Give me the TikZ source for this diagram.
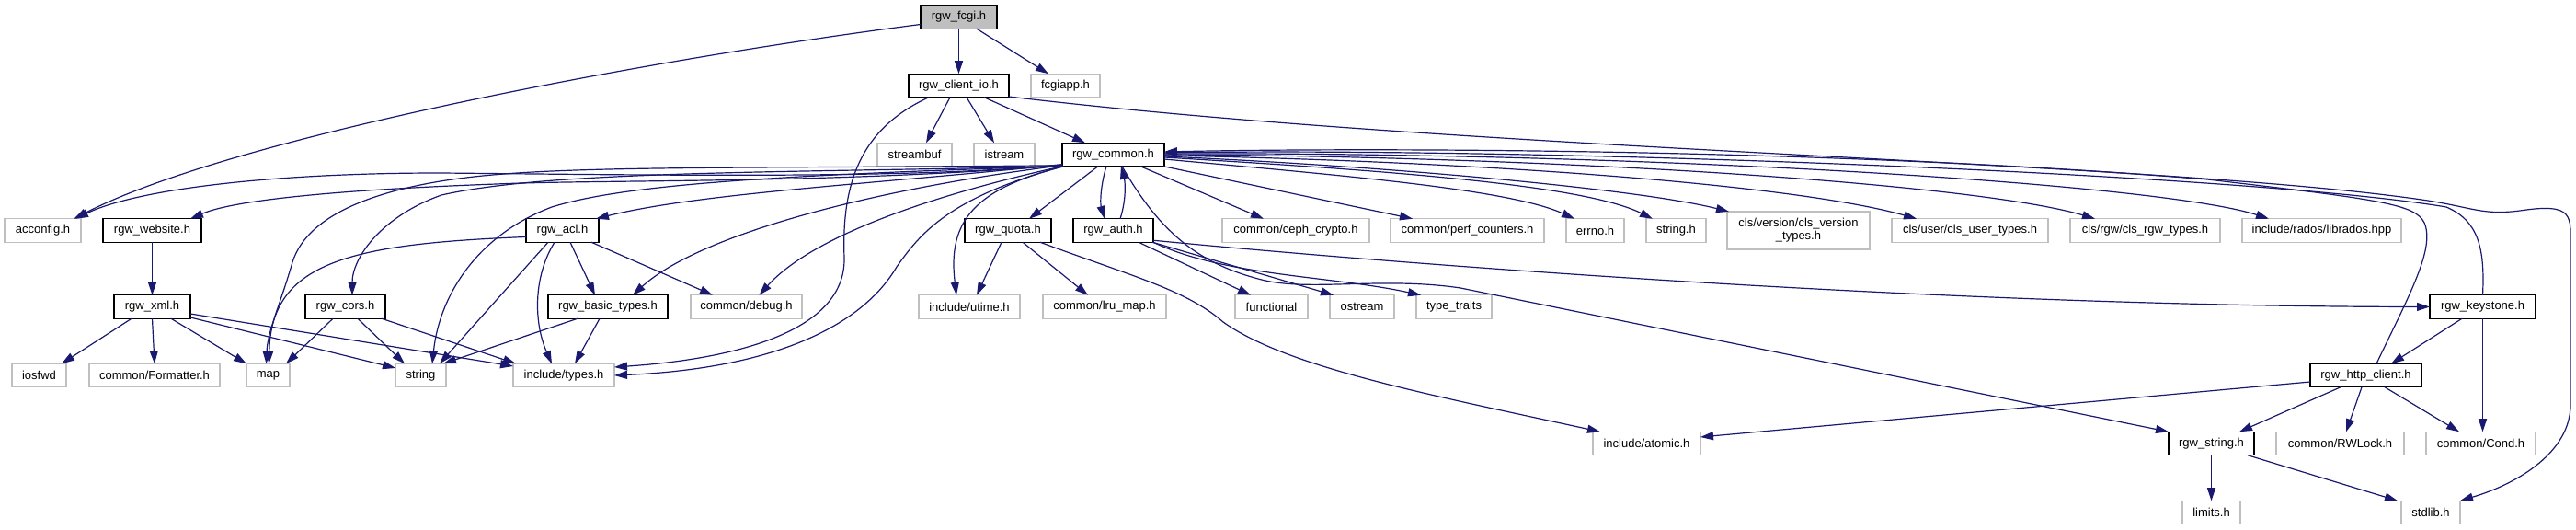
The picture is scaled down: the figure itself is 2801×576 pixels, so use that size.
\documentclass[tikz,border=0pt]{standalone}
\usepackage{fontspec}
\setmainfont{Liberation Sans}
\usetikzlibrary{arrows.meta,calc}
\definecolor{edgec}{HTML}{191970}
\definecolor{greyb}{HTML}{BFBFBF}
\begin{document}
\begin{tikzpicture}[x=0.5pt,y=-0.5pt,
  font=\fontsize{6.5}{7}\selectfont,
  base/.style={inner sep=0pt,outer sep=0pt,line width=0.7pt,minimum height=12.75pt,text=black},
  doc/.style={base,draw=black,fill=white},
  ext/.style={base,draw=greyb,fill=white},
  ed/.style={draw=edgec,line width=0.6pt,-{Triangle[length=7pt,width=4.5pt]}}]
\useasboundingbox[fill=white] (0,0) rectangle (2801,576);
% row 0
\node[doc,fill=greyb,minimum width=41.5pt] (fcgi) at (1042.5,18.5) {rgw\_fcgi.h};
% row 1
\node[doc,minimum width=54.5pt] (clientio) at (1042.5,93) {rgw\_client\_io.h};
\node[ext,minimum width=37.5pt] (fcgiapp) at (1158.5,93) {fcgiapp.h};
% row 2
\node[ext,minimum width=40.5pt] (streambuf) at (994.5,168) {streambuf};
\node[ext,minimum width=33pt] (istream) at (1092,168) {istream};
\node[doc,minimum width=55.5pt] (common) at (1210.5,168) {rgw\_common.h};
% row 3
\node[ext,minimum width=41.5pt] (acconfig) at (46.5,250.5) {acconfig.h};
\node[doc,minimum width=53.5pt] (website) at (165.5,250.5) {rgw\_website.h};
\node[doc,minimum width=39.5pt] (acl) at (611.5,250.5) {rgw\_acl.h};
\node[doc,minimum width=47pt] (quota) at (1096,250.5) {rgw\_quota.h};
\node[doc,minimum width=43.5pt] (auth) at (1210.5,250.5) {rgw\_auth.h};
\node[ext,minimum width=80pt] (cephcrypto) at (1409,250.5) {common/ceph\_crypto.h};
\node[ext,minimum width=83.5pt] (perfcounters) at (1595.5,250.5) {common/perf\_counters.h};
\node[ext,minimum width=31.5pt] (errno) at (1734.5,250.5) {errno.h};
\node[ext,minimum width=32.5pt] (stringh) at (1822.5,250.5) {string.h};
\node[ext,minimum width=77.5pt,minimum height=20.5pt,align=center] (clsversion) at (1955.5,250.5) {cls/version/cls\_version\\\_types.h};
\node[ext,minimum width=85pt] (clsuser) at (2142,250.5) {cls/user/cls\_user\_types.h};
\node[ext,minimum width=81.5pt] (clsrgw) at (2332.5,250.5) {cls/rgw/cls\_rgw\_types.h};
\node[ext,minimum width=86.5pt] (librados) at (2524.5,250.5) {include/rados/librados.hpp};
% row 4
\node[doc,minimum width=41.5pt] (xml) at (165.5,333.5) {rgw\_xml.h};
\node[doc,minimum width=43.5pt] (cors) at (375.5,333.5) {rgw\_cors.h};
\node[doc,minimum width=65pt] (basictypes) at (661,333.5) {rgw\_basic\_types.h};
\node[ext,minimum width=60.5pt] (debug) at (811.5,333.5) {common/debug.h};
\node[ext,minimum width=55pt] (utime) at (1054,333.5) {include/utime.h};
\node[ext,minimum width=67pt] (lrumap) at (1201,333.5) {common/lru\_map.h};
\node[ext,minimum width=39.5pt] (functional) at (1382.5,333.5) {functional};
\node[ext,minimum width=35pt] (ostream) at (1481,333.5) {ostream};
\node[ext,minimum width=41pt] (typetraits) at (1581,333.5) {type\_traits};
\node[doc,minimum width=57.5pt] (keystone) at (2699.5,333.5) {rgw\_keystone.h};
% row 5
\node[ext,minimum width=29.5pt] (iosfwd) at (42.5,408) {iosfwd};
\node[ext,minimum width=71pt] (formatter) at (168,408) {common/Formatter.h};
\node[ext,minimum width=23.5pt] (map) at (291.5,408) {map};
\node[ext,minimum width=27.5pt] (string) at (457.5,408) {string};
\node[ext,minimum width=55pt] (types) at (613,408) {include/types.h};
\node[doc,minimum width=60.5pt] (httpclient) at (2572.5,408) {rgw\_http\_client.h};
% row 6
\node[ext,minimum width=58.5pt] (atomic) at (1790.5,482) {include/atomic.h};
\node[doc,minimum width=46.5pt] (rgwstring) at (2404.5,482) {rgw\_string.h};
\node[ext,minimum width=69.5pt] (rwlock) at (2544.5,482) {common/RWLock.h};
\node[ext,minimum width=59.5pt] (cond) at (2697.5,482) {common/Cond.h};
% row 7
\node[ext,minimum width=31.5pt] (limits) at (2404.5,557) {limits.h};
\node[ext,minimum width=32pt] (stdlib) at (2643,557) {stdlib.h};

% ---- edges from rgw_fcgi.h
\draw[ed] ($(fcgi.west)+(0,8)$) .. controls (700,65) and (250,150) .. ($(acconfig.north)+(34,0)$);
\draw[ed] (fcgi.south) -- (clientio.north);
\draw[ed] ($(fcgi.south)+(19.5,0)$) -- ($(fcgiapp.north)+(-18.5,0)$);
% ---- edges from rgw_client_io.h
\draw[ed] ($(clientio.south)+(-9.5,0)$) -- ($(streambuf.north)+(12.5,0)$);
\draw[ed] ($(clientio.south)+(8.5,0)$) -- ($(istream.north)+(-11,0)$);
\draw[ed] ($(clientio.south)+(27.5,0)$) -- ($(common.north)+(-30.5,0)$);
\draw[ed] ($(clientio.south)+(-32.5,0)$) .. controls (935,140) and (915,200) .. (918,280)
   .. controls (920,360) and (800,390) .. ($(types.east)+(0,-9)$);
\draw[ed] ($(clientio.east)+(0,12)$) .. controls (1600,165) and (2350,175) .. (2640,218)
   .. controls (2690,226) and (2700,234) .. (2740,229)
   .. controls (2800,220) and (2795,235) .. (2795,270) -- (2795,440)
   .. controls (2795,490) and (2740,525) .. (stdlib.north east);
% ---- edges from rgw_common.h, left side
\draw[ed] ($(common.south west)+(0,-2)$) .. controls (1000,195) and (700,190) .. (478,188)
   .. controls (300,188) and (150,205) .. ($(acconfig.north east)+(-6,0)$);
\draw[ed] ($(common.south west)+(0,-1)$) .. controls (900,200) and (650,195) .. (540,200)
   .. controls (400,205) and (260,215) .. ($(website.north east)+(-12,0)$);
\draw[ed] ($(common.south west)+(0,-1)$) .. controls (850,183) and (650,180) .. (536,190)
   .. controls (420,200) and (335,230) .. (318,285)
   .. controls (305,330) and (291,360) .. ($(map.north)+(-2,0)$);
\draw[ed] (common.south west) .. controls (850,188) and (600,185) .. (480,212)
   .. controls (415,235) and (383,280) .. ($(cors.north)+(7.5,0)$);
\draw[ed] (common.south west) .. controls (850,190) and (680,200) .. (600,225)
   .. controls (520,255) and (478,320) .. ($(string.north)+(12.5,0)$);
\draw[ed] ($(common.south west)+(1,0)$) .. controls (1030,215) and (1000,255) .. (975,290)
   .. controls (940,350) and (850,400) .. (types.east);
\draw[ed] ($(common.south west)+(2,0)$) .. controls (1060,205) and (1030,240) .. ($(utime.north)+(-14,0)$);
\draw[ed] (common.south west) .. controls (1000,215) and (880,260) .. ($(debug.north)+(14,0)$);
\draw[ed] ($(common.south west)+(0,-1)$) .. controls (950,205) and (760,255) .. ($(basictypes.north)+(27,0)$);
\draw[ed] ($(common.south west)+(0,-2)$) .. controls (950,200) and (760,210) .. ($(acl.north east)+(-3,0)$);
% ---- edges from rgw_common.h, below and right
\draw[ed] ($(common.south)+(-16.5,0)$) -- ($(quota.north)+(23,0)$);
\draw[ed] ($(common.south)+(-7.5,0)$) .. controls (1197,200) and (1196,220) .. ($(auth.north)+(-9.5,0)$);
\draw[ed] ($(auth.north)+(7.5,0)$) .. controls (1224,220) and (1224,200) .. ($(common.south)+(8.5,0)$);
\draw[ed] ($(common.south)+(29.5,0)$) -- ($(cephcrypto.north)+(-35,0)$);
\draw[ed] ($(common.south east)+(-1,0)$) -- ($(perfcounters.north)+(-59.5,0)$);
\draw[ed] ($(common.east)+(0,5)$) .. controls (1450,190) and (1640,205) .. ($(errno.north)+(-22.5,0)$);
\draw[ed] ($(common.east)+(0,3)$) .. controls (1500,185) and (1720,200) .. ($(stringh.north)+(-25.5,0)$);
\draw[ed] ($(common.east)+(0,2)$) .. controls (1500,180) and (1780,205) .. ($(clsversion.north west)+(2,0)$);
\draw[ed] ($(common.east)+(0,1)$) .. controls (1600,175) and (1950,200) .. ($(clsuser.north)+(-58,0)$);
\draw[ed] (common.east) .. controls (1700,170) and (2150,200) .. ($(clsrgw.north)+(-54.5,0)$);
\draw[ed] ($(common.east)+(0,-1)$) .. controls (1800,165) and (2350,200) .. ($(librados.north)+(-57.5,0)$);
\draw[ed] ($(common.south)+(9.5,0)$) .. controls (1260,250) and (1300,285) .. (1368,303)
   .. controls (1420,318) and (1500,300) .. (1588,313) -- (rgwstring.north west);
% ---- back edges into rgw_common.h
\draw[ed] (keystone.north) .. controls (2702,270) and (2695,240) .. (2660,225)
   .. controls (2450,190) and (1700,160) .. ($(common.east)+(0,-2)$);
\draw[ed] ($(httpclient.north)+(11.5,0)$) .. controls (2620,320) and (2648,270) .. (2636,242)
   .. controls (2626,222) and (2590,217) .. (2400,195)
   .. controls (2000,162) and (1500,160) .. ($(common.east)+(0,-3)$);
% ---- rgw_auth.h
\draw[ed] ($(auth.south)+(27.5,0)$) -- ($(functional.north)+(-22.5,0)$);
\draw[ed] ($(auth.south east)+(-1,0)$) -- ($(ostream.north west)+(4,0)$);
\draw[ed] (auth.south east) .. controls (1330,300) and (1450,300) .. ($(typetraits.north west)+(5,0)$);
\draw[ed] ($(auth.south east)+(0,-2)$) .. controls (1500,285) and (2100,333) .. (keystone.west);
% ---- rgw_quota.h
\draw[ed] ($(quota.south)+(-7,0)$) -- ($(utime.north)+(8,0)$);
\draw[ed] ($(quota.south)+(16,0)$) -- ($(lrumap.north)+(-18,0)$);
\draw[ed] ($(quota.south)+(35,0)$) .. controls (1230,300) and (1290,315) .. (1330,350)
   .. controls (1400,400) and (1560,430) .. ($(atomic.north west)+(8,0)$);
% ---- rgw_keystone.h
\draw[ed] ($(keystone.south)+(-22.5,0)$) -- ($(httpclient.north)+(27.5,0)$);
\draw[ed] (keystone.south) -- (keystone.south |- cond.north);
% ---- rgw_http_client.h
\draw[ed] ($(httpclient.west)+(0,7)$) -- ($(atomic.east)+(0,-7)$);
\draw[ed] ($(httpclient.south)+(-27.5,0)$) -- ($(rgwstring.north east)+(-16,0)$);
\draw[ed] ($(httpclient.south)+(-4.5,0)$) -- ($(rwlock.north)+(6.5,0)$);
\draw[ed] ($(httpclient.south)+(20.5,0)$) -- ($(cond.north)+(-23.5,0)$);
% ---- rgw_string.h
\draw[ed] (rgwstring.south) -- (limits.north);
\draw[ed] ($(rgwstring.south east)+(-7,0)$) -- ($(stdlib.north west)+(-4,0)$);
% ---- left part
\draw[ed] (website.south) -- (xml.north);
\draw[ed] ($(xml.south)+(-22.5,0)$) -- ($(iosfwd.north)+(24.5,0)$);
\draw[ed] (xml.south) -- (formatter.north);
\draw[ed] ($(xml.south)+(20.5,0)$) -- (map.north west);
\draw[ed] ($(xml.east)+(0,11.5)$) -- ($(string.west)+(0,-8)$);
\draw[ed] ($(xml.east)+(0,7.5)$) -- ($(types.west)+(0,-10)$);
\draw[ed] ($(cors.south)+(-13.5,0)$) -- ($(map.north east)+(-4,0)$);
\draw[ed] ($(cors.south)+(13.5,0)$) -- ($(string.north)+(-17.5,0)$);
\draw[ed] ($(cors.south east)+(-4,0)$) -- ($(types.north west)+(3,0)$);
\draw[ed] ($(basictypes.south)+(-33,0)$) -- ($(string.north east)+(-3,0)$);
\draw[ed] ($(basictypes.south)+(-9,0)$) -- ($(types.north)+(12,0)$);
\draw[ed] ($(acl.west)+(0,7)$) .. controls (380,265) and (295,285) .. ($(map.north)+(1,0)$);
\draw[ed] ($(acl.south)+(-15.5,0)$) -- ($(string.north east)+(-7,0)$);
\draw[ed] ($(acl.south)+(-8.5,0)$) .. controls (580,300) and (580,350) .. ($(types.north)+(-13,0)$);
\draw[ed] ($(acl.south)+(8.5,0)$) -- ($(basictypes.north)+(-14,0)$);
\draw[ed] ($(acl.south)+(31.5,0)$) -- ($(debug.north)+(-36.5,0)$);
\end{tikzpicture}
\end{document}
